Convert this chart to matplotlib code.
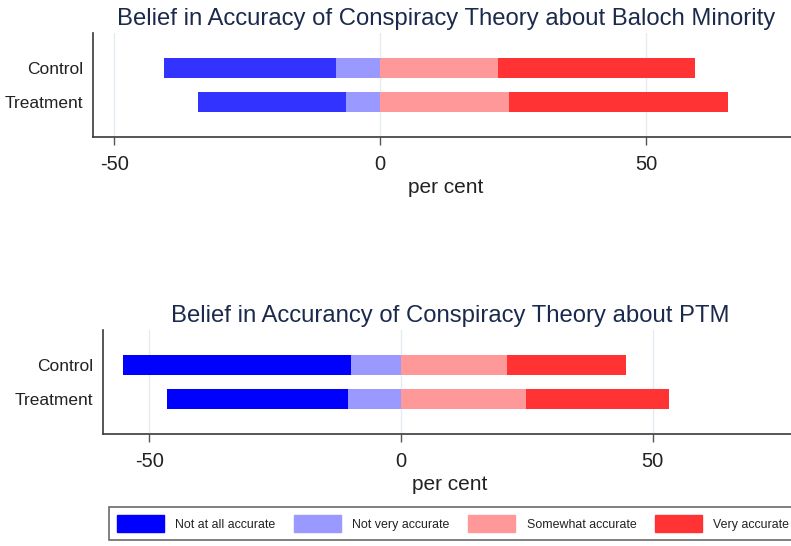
import matplotlib
matplotlib.use('Agg')
import matplotlib.pyplot as plt
from matplotlib.patches import Patch

plt.rcParams['font.family'] = ['Liberation Sans', 'DejaVu Sans']

groups = ['Control', 'Treatment']
categories = ['Not at all accurate', 'Not very accurate', 'Somewhat accurate', 'Very accurate']

# Baloch minority (per cent)
baloch_not_at_all = [32.3, 27.9]
baloch_not_very = [8.3, 6.4]
baloch_somewhat = [22.1, 24.3]
baloch_very = [37.1, 41.2]

# PTM (per cent)
ptm_not_at_all = [45.3, 35.9]
ptm_not_very = [9.9, 10.6]
ptm_somewhat = [21.0, 24.8]
ptm_very = [23.7, 28.5]

titles = ['Belief in Accuracy of Conspiracy Theory about Baloch Minority',
          'Belief in Accurancy of Conspiracy Theory about PTM']
xticks = [-50, 0, 50]
xlabel = 'per cent'

W, H = 791, 546
fig = plt.figure(figsize=(W / 100, H / 100), dpi=100)

title_color = '#1b2a4c'
spine_color = '#3a3a3a'
c_nva = '#9999ff'
c_sa = '#ff9999'
c_va = '#ff3333'


def px_axes(left, top, right, bottom):
    return fig.add_axes([left / W, 1 - bottom / H, (right - left) / W, (bottom - top) / H])


def draw(ax, naa, nva, sa, va, title, xlim, c_naa):
    y = list(range(len(groups)))
    h = 0.6
    neg_nva = [-v for v in nva]
    neg_naa = [-v for v in naa]
    ax.barh(y, neg_nva, left=0, height=h, color=c_nva, zorder=3)
    ax.barh(y, neg_naa, left=neg_nva, height=h, color=c_naa, zorder=3)
    ax.barh(y, sa, left=0, height=h, color=c_sa, zorder=3)
    ax.barh(y, va, left=sa, height=h, color=c_va, zorder=3)
    ax.set_yticks(y)
    ax.set_yticklabels(groups, fontsize=12.5, color='#222222')
    ax.set_ylim(1 + 1.06, -1.06)
    ax.set_xlim(*xlim)
    ax.set_xticks(xticks)
    ax.set_xticklabels([str(t) for t in xticks], fontsize=14.5, color='#222222')
    ax.tick_params(axis='y', length=0, pad=7)
    ax.tick_params(axis='x', length=5.8, width=1, color='#555555', pad=7)
    ax.set_xlabel(xlabel, fontsize=15, color='#222222', labelpad=3)
    ax.grid(axis='x', color='#e4ecf1', lw=1)
    ax.set_axisbelow(True)
    for s in ['top', 'right']:
        ax.spines[s].set_visible(False)
    for s in ['left', 'bottom']:
        ax.spines[s].set_color(spine_color)
        ax.spines[s].set_linewidth(1.2)
    ax.set_title(title, fontsize=17.2, color=title_color, pad=6)


ax1 = px_axes(93, 33, 799, 137)
draw(ax1, baloch_not_at_all, baloch_not_very, baloch_somewhat, baloch_very,
     titles[0], (-54, 78.8), '#3333ff')

ax2 = px_axes(102.7, 330, 797, 434.3)
draw(ax2, ptm_not_at_all, ptm_not_very, ptm_somewhat, ptm_very,
     titles[1], (-59.3, 78.7), '#0000ff')

leg_colors = ['#0000ff', c_nva, c_sa, c_va]
handles = [Patch(facecolor=c, edgecolor=c) for c in leg_colors]
leg = fig.legend(handles, categories, loc='center', ncol=4, mode='expand',
                 bbox_to_anchor=(109 / W, 1 - 542 / H, (797 - 109) / W, 37 / H),
                 fontsize=8.9, handlelength=3.8, handleheight=1.7,
                 handletextpad=0.95, borderpad=0.62, borderaxespad=0,
                 fancybox=False, frameon=True)
leg.get_frame().set_edgecolor('#444444')
leg.get_frame().set_linewidth(1.2)
for t in leg.get_texts():
    t.set_color('#222222')

fig.savefig('out.png', dpi=100)
